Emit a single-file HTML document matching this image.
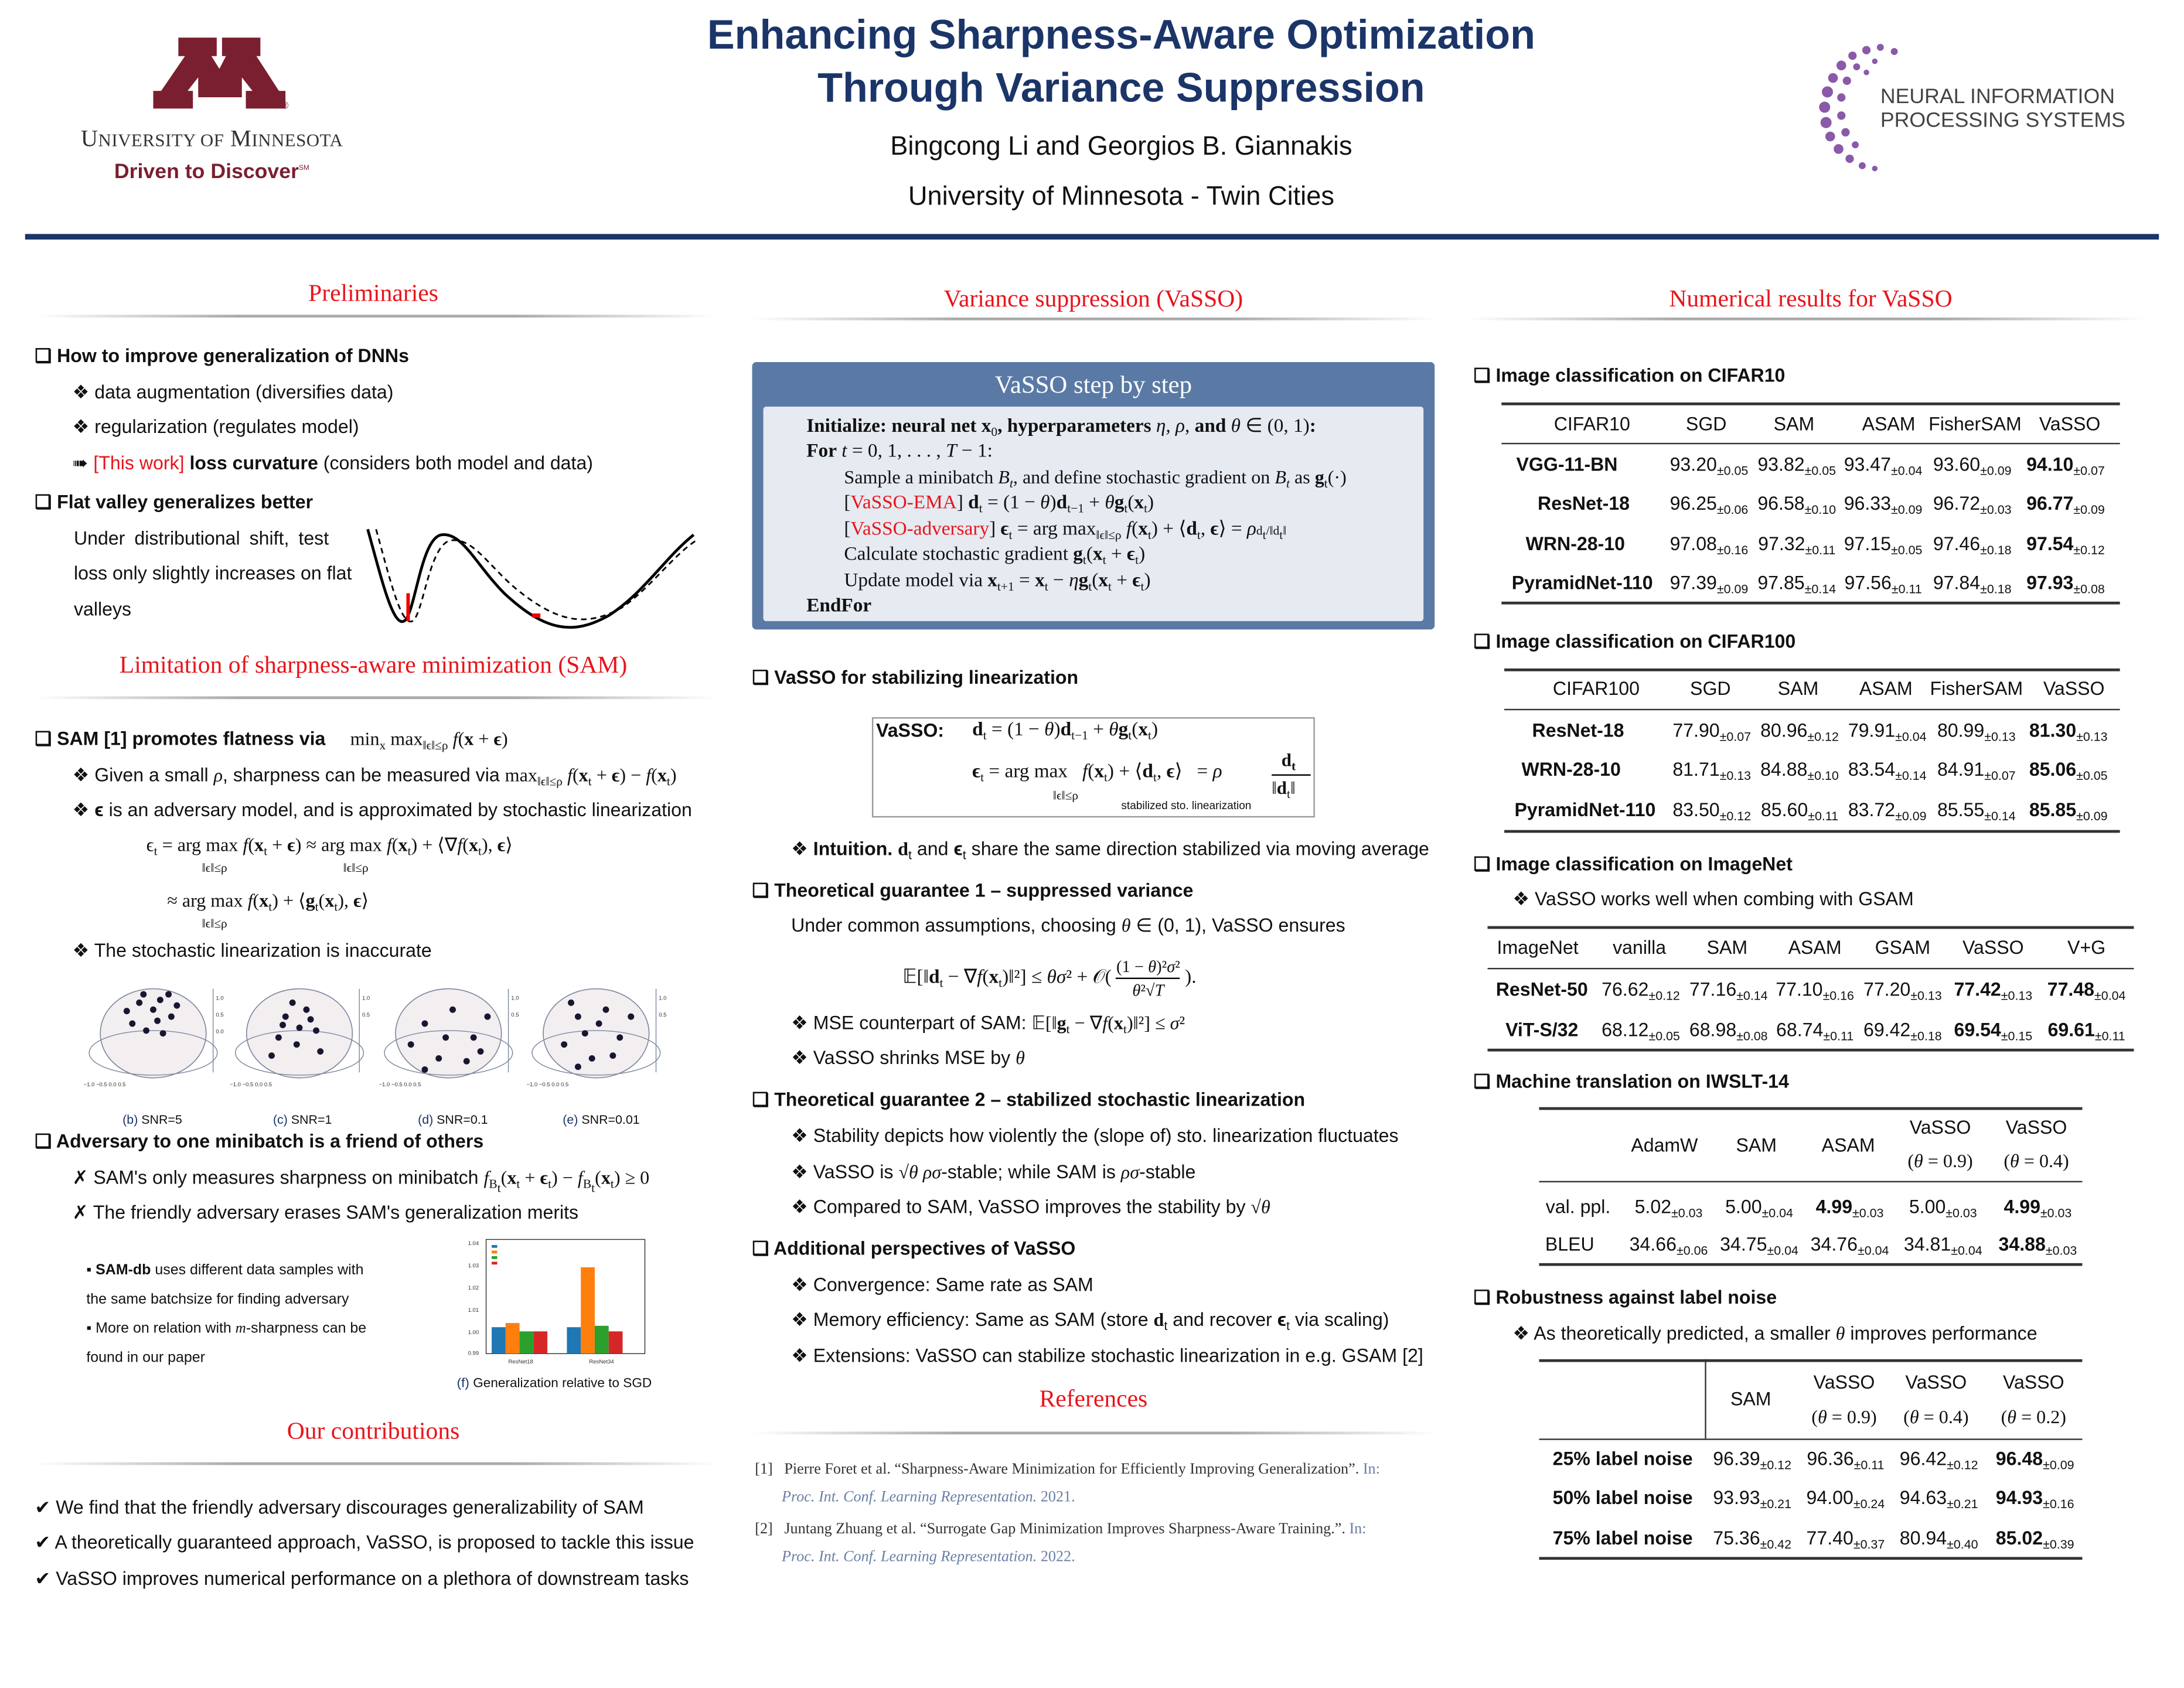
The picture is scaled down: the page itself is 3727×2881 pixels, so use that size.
<!DOCTYPE html>
<html><head><meta charset="utf-8">
<style>
html,body{margin:0;padding:0;background:#fff;}
body{width:3727px;height:2880px;overflow:hidden;position:relative;}
#s{position:absolute;left:0;top:0;width:1568px;height:1212px;transform:scale(2.3769);transform-origin:0 0;font-family:"Liberation Sans",sans-serif;color:#111;}
.t{position:absolute;white-space:nowrap;font-size:13.5px;line-height:18px;}
.b{font-weight:bold;}
.h{position:absolute;white-space:nowrap;font-family:"Liberation Serif",serif;color:#e8141b;font-size:17.5px;line-height:22px;transform:translateX(-50%);}
.ln{position:absolute;height:2px;background:linear-gradient(90deg,rgba(180,180,180,0),#aaa 30%,#aaa 70%,rgba(180,180,180,0));}
.m{font-family:"Liberation Serif",serif;font-style:italic;}
.sr{font-family:"Liberation Serif",serif;}
.c{position:absolute;white-space:nowrap;font-size:13.5px;line-height:18px;text-align:center;transform:translateX(-50%);}
sub{font-size:9px;vertical-align:-3px;}
.rule{position:absolute;height:1.3px;background:#333;}
.red{color:#e8141b;}
</style></head><body><div id="s">

<!-- Header -->
<svg style="position:absolute;left:110px;top:27px" width="95" height="51" viewBox="0 0 100 100" preserveAspectRatio="none">
<path fill="#7a1f30" d="M0 100H30V75H26L34 56V84H67V56L75 75H70V100H100V75H95L78 26H81V0H52V26H55L50 44L44 26H48V0H19V26H24L6 75H0Z"/>
</svg>
<div class="t" style="left:202px;top:68px;font-size:7px;color:#7a1f30">®</div>
<div class="t sr" style="left:58px;top:90px;font-size:17px;line-height:20px;color:#333;letter-spacing:0.2px">U<span style="font-size:13px">NIVERSITY OF</span> M<span style="font-size:13px">INNESOTA</span></div>
<div class="t b" style="left:82px;top:111px;font-size:15px;line-height:20px;color:#7a1f30">Driven to Discover<sup style="font-size:5px;font-weight:normal">SM</sup></div>

<div class="c b" style="left:805px;top:7px;font-size:29.5px;line-height:38px;color:#1b3568">Enhancing Sharpness-Aware Optimization</div>
<div class="c b" style="left:805px;top:45px;font-size:29.5px;line-height:38px;color:#1b3568">Through Variance Suppression</div>
<div class="c" style="left:805px;top:93px;font-size:19px;line-height:25px">Bingcong Li and Georgios B. Giannakis</div>
<div class="c" style="left:805px;top:129px;font-size:19px;line-height:25px">University of Minnesota - Twin Cities</div>

<svg style="position:absolute;left:1300px;top:28px" width="80" height="100" viewBox="0 0 80 100">
<g fill="#8a5aa8">
<circle cx="40" cy="8" r="3"/><circle cx="50" cy="6" r="2.5"/><circle cx="60" cy="9" r="2.5"/><circle cx="30" cy="12" r="3"/><circle cx="22" cy="19" r="3.5"/><circle cx="16" cy="28" r="3.5"/><circle cx="12" cy="38" r="4"/><circle cx="10" cy="49" r="4"/><circle cx="11" cy="60" r="4"/><circle cx="14" cy="70" r="3.5"/><circle cx="20" cy="79" r="3.5"/><circle cx="28" cy="86" r="3"/><circle cx="37" cy="91" r="2.5"/><circle cx="46" cy="93" r="2"/>
<circle cx="33" cy="20" r="2.5"/><circle cx="26" cy="30" r="3"/><circle cx="22" cy="42" r="3"/><circle cx="22" cy="55" r="3"/><circle cx="25" cy="67" r="3"/><circle cx="32" cy="76" r="2.5"/><circle cx="40" cy="24" r="2"/><circle cx="46" cy="16" r="2"/>
</g></svg>
<div class="t" style="left:1350px;top:61px;font-size:15px;line-height:17px;color:#444">NEURAL INFORMATION<br>PROCESSING SYSTEMS</div>

<div style="position:absolute;left:18px;top:168px;width:1532px;height:3.5px;background:#1b3568"></div>

<!-- Column 1 -->
<div class="h" style="left:268px;top:199px">Preliminaries</div>
<div class="ln" style="left:25px;top:226px;width:490px"></div>
<div class="t b" style="left:25px;top:247px">❑ How to improve generalization of DNNs</div>
<div class="t" style="left:52px;top:273px">❖ data augmentation (diversifies data)</div>
<div class="t" style="left:52px;top:298px">❖ regularization (regulates model)</div>
<div class="t" style="left:52px;top:324px">➠ <span class="red">[This work]</span> <b>loss curvature</b> (considers both model and data)</div>
<div class="t b" style="left:25px;top:352px">❑ Flat valley generalizes better</div>
<div class="t" style="left:53px;top:378px;word-spacing:3px">Under distributional shift, test</div>
<div class="t" style="left:53px;top:403px">loss only slightly increases on flat</div>
<div class="t" style="left:53px;top:429px">valleys</div>
<svg style="position:absolute;left:262px;top:376px" width="240" height="78" viewBox="0 0 240 78">
<path d="M2 4 C12 40,20 74,28 70 C36 66,40 10,55 8 C70 6,80 30,100 50 C130 78,150 80,175 66 C200 50,215 25,236 8" fill="none" stroke="#000" stroke-width="2"/>
<path d="M8 4 C18 40,26 74,34 70 C42 66,46 14,62 12 C78 10,90 32,110 48 C140 72,160 74,185 60 C205 46,222 22,238 12" fill="none" stroke="#000" stroke-width="1.2" stroke-dasharray="4 3"/>
<line x1="31" y1="50" x2="31" y2="70" stroke="#e00" stroke-width="2.5"/>
<line x1="120" y1="66" x2="126" y2="66" stroke="#e00" stroke-width="3"/>
</svg>

<div class="h" style="left:268px;top:466px">Limitation of sharpness-aware minimization (SAM)</div>
<div class="ln" style="left:25px;top:500px;width:490px"></div>
<div class="t b" style="left:25px;top:522px">❑ SAM [1] promotes flatness via <span class="sr" style="font-weight:normal;margin-left:14px">min<sub>x</sub> max<sub>‖ϵ‖≤ρ</sub> <i>f</i>(<b>x</b> + <b>ϵ</b>)</span></div>
<div class="t" style="left:52px;top:548px">❖ Given a small <span class="m">ρ</span>, sharpness can be measured via <span class="sr">max<sub>‖ϵ‖≤ρ</sub> <i>f</i>(<b>x</b><sub>t</sub> + <b>ϵ</b>) − <i>f</i>(<b>x</b><sub>t</sub>)</span></div>
<div class="t" style="left:52px;top:573px">❖ <b>ϵ</b> is an adversary model, and is approximated by stochastic linearization</div>
<div class="t sr" style="left:105px;top:598px">ϵ<sub>t</sub> = arg max <i>f</i>(<b>x</b><sub>t</sub> + <b>ϵ</b>) ≈ arg max <i>f</i>(<b>x</b><sub>t</sub>) + ⟨∇<i>f</i>(<b>x</b><sub>t</sub>), <b>ϵ</b>⟩</div>
<div class="t sr" style="left:145px;top:614px;font-size:9px">‖ϵ‖≤ρ &nbsp;&nbsp;&nbsp;&nbsp;&nbsp;&nbsp;&nbsp;&nbsp;&nbsp;&nbsp;&nbsp;&nbsp;&nbsp;&nbsp;&nbsp;&nbsp;&nbsp;&nbsp;&nbsp;&nbsp;&nbsp;&nbsp;&nbsp;&nbsp;&nbsp;&nbsp;&nbsp;&nbsp;&nbsp;&nbsp;&nbsp;&nbsp;&nbsp;&nbsp;&nbsp; ‖ϵ‖≤ρ</div>
<div class="t sr" style="left:120px;top:638px">≈ arg max <i>f</i>(<b>x</b><sub>t</sub>) + ⟨<b>g</b><sub>t</sub>(<b>x</b><sub>t</sub>), <b>ϵ</b>⟩</div>
<div class="t sr" style="left:145px;top:654px;font-size:9px">‖ϵ‖≤ρ</div>
<div class="t" style="left:52px;top:674px">❖ The stochastic linearization is inaccurate</div>

<svg style="position:absolute;left:55px;top:700px" width="440" height="96" viewBox="0 0 440 96">
<g fill="#f3eef0" stroke="#7f8aa0" stroke-width="0.7">
<ellipse cx="55" cy="42" rx="38" ry="32"/><ellipse cx="160" cy="42" rx="38" ry="32"/><ellipse cx="267" cy="42" rx="38" ry="32"/><ellipse cx="373" cy="42" rx="38" ry="32"/>
</g>
<g fill="none" stroke="#7f8aa0" stroke-width="0.6">
<ellipse cx="55" cy="56" rx="46" ry="16"/><ellipse cx="160" cy="56" rx="46" ry="16"/><ellipse cx="267" cy="56" rx="46" ry="16"/><ellipse cx="373" cy="56" rx="46" ry="16"/>
<path d="M98 10V70M203 10V70M310 10V70M416 10V70"/>
</g>
<g font-size="4" fill="#333" font-family="Liberation Sans"><text x="100" y="18">1.0</text><text x="100" y="30">0.5</text><text x="100" y="42">0.0</text><text x="205" y="18">1.0</text><text x="205" y="30">0.5</text><text x="312" y="18">1.0</text><text x="312" y="30">0.5</text><text x="418" y="18">1.0</text><text x="418" y="30">0.5</text><text x="5" y="80">−1.0 −0.5 0.0 0.5</text><text x="110" y="80">−1.0 −0.5 0.0 0.5</text><text x="217" y="80">−1.0 −0.5 0.0 0.5</text><text x="323" y="80">−1.0 −0.5 0.0 0.5</text></g>
<g fill="#1a1530">
<circle cx="45" cy="20" r="2.3"/><circle cx="55" cy="25" r="2.3"/><circle cx="60" cy="18" r="2.3"/><circle cx="68" cy="30" r="2.3"/><circle cx="40" cy="35" r="2.3"/><circle cx="50" cy="40" r="2.3"/><circle cx="62" cy="42" r="2.3"/><circle cx="72" cy="22" r="2.3"/><circle cx="48" cy="14" r="2.3"/><circle cx="58" cy="33" r="2.3"/><circle cx="36" cy="26" r="2.3"/><circle cx="66" cy="14" r="2.3"/>
<circle cx="150" cy="30" r="2.3"/><circle cx="165" cy="25" r="2.3"/><circle cx="172" cy="40" r="2.3"/><circle cx="145" cy="45" r="2.3"/><circle cx="158" cy="50" r="2.3"/><circle cx="175" cy="55" r="2.3"/><circle cx="140" cy="58" r="2.3"/><circle cx="160" cy="38" r="2.3"/><circle cx="155" cy="20" r="2.3"/><circle cx="168" cy="32" r="2.3"/><circle cx="148" cy="36" r="2.3"/>
<circle cx="250" cy="35" r="2.3"/><circle cx="270" cy="25" r="2.3"/><circle cx="285" cy="45" r="2.3"/><circle cx="260" cy="60" r="2.3"/><circle cx="240" cy="50" r="2.3"/><circle cx="280" cy="62" r="2.3"/><circle cx="295" cy="30" r="2.3"/><circle cx="265" cy="45" r="2.3"/><circle cx="250" cy="68" r="2.3"/><circle cx="290" cy="55" r="2.3"/>
<circle cx="360" cy="30" r="2.3"/><circle cx="380" cy="25" r="2.3"/><circle cx="390" cy="45" r="2.3"/><circle cx="350" cy="50" r="2.3"/><circle cx="370" cy="60" r="2.3"/><circle cx="385" cy="58" r="2.3"/><circle cx="365" cy="42" r="2.3"/><circle cx="355" cy="20" r="2.3"/><circle cx="375" cy="35" r="2.3"/><circle cx="398" cy="30" r="2.3"/><circle cx="360" cy="66" r="2.3"/>
</g></svg>
<div class="t" style="left:88px;top:795px;font-size:9px;color:#1b3568">(b) <span style="color:#111">SNR=5</span></div>
<div class="t" style="left:196px;top:795px;font-size:9px;color:#1b3568">(c) <span style="color:#111">SNR=1</span></div>
<div class="t" style="left:300px;top:795px;font-size:9px;color:#1b3568">(d) <span style="color:#111">SNR=0.1</span></div>
<div class="t" style="left:404px;top:795px;font-size:9px;color:#1b3568">(e) <span style="color:#111">SNR=0.01</span></div>

<div class="t b" style="left:25px;top:811px">❑ Adversary to one minibatch is a friend of others</div>
<div class="t" style="left:52px;top:837px">✗ SAM's only measures sharpness on minibatch <span class="sr"><i>f</i><sub>B<sub>t</sub></sub>(<b>x</b><sub>t</sub> + <b>ϵ</b><sub>t</sub>) − <i>f</i><sub>B<sub>t</sub></sub>(<b>x</b><sub>t</sub>) ≥ 0</span></div>
<div class="t" style="left:52px;top:862px">✗ The friendly adversary erases SAM's generalization merits</div>
<div class="t" style="left:62px;top:902px;font-size:10.5px;line-height:21px">▪ <b>SAM-db</b> uses different data samples with<br>the same batchsize for finding adversary<br>▪ More on relation with <i class="sr">m</i>-sharpness can be<br>found in our paper</div>
<svg style="position:absolute;left:335px;top:886px" width="132" height="96" viewBox="0 0 132 96">
<rect x="14" y="4" width="114" height="82" fill="none" stroke="#333" stroke-width="0.6"/>
<g font-size="4" fill="#333" font-family="Liberation Sans"><text x="1" y="8">1.04</text><text x="1" y="24">1.03</text><text x="1" y="40">1.02</text><text x="1" y="56">1.01</text><text x="1" y="72">1.00</text><text x="1" y="87">0.99</text><text x="30" y="93">ResNet18</text><text x="88" y="93">ResNet34</text></g>
<rect x="18" y="8" width="4" height="2" fill="#1f77b4"/><rect x="18" y="12" width="4" height="2" fill="#ff7f0e"/><rect x="18" y="16" width="4" height="2" fill="#2ca02c"/><rect x="18" y="20" width="4" height="2" fill="#d62728"/>
<rect x="18" y="67" width="10" height="19" fill="#1f77b4"/><rect x="28" y="64" width="10" height="22" fill="#ff7f0e"/><rect x="38" y="70" width="10" height="16" fill="#2ca02c"/><rect x="48" y="70" width="10" height="16" fill="#d62728"/>
<rect x="72" y="67" width="10" height="19" fill="#1f77b4"/><rect x="82" y="24" width="10" height="62" fill="#ff7f0e"/><rect x="92" y="66" width="10" height="20" fill="#2ca02c"/><rect x="102" y="70" width="10" height="16" fill="#d62728"/>
</svg>
<div class="t" style="left:328px;top:985px;font-size:9.5px"><span style="color:#1b3568">(f)</span> Generalization relative to SGD</div>

<div class="h" style="left:268px;top:1016px">Our contributions</div>
<div class="ln" style="left:25px;top:1050px;width:490px"></div>
<div class="t" style="left:25px;top:1074px">✔ We find that the friendly adversary discourages generalizability of SAM</div>
<div class="t" style="left:25px;top:1099px">✔ A theoretically guaranteed approach, VaSSO, is proposed to tackle this issue</div>
<div class="t" style="left:25px;top:1125px">✔ VaSSO improves numerical performance on a plethora of downstream tasks</div>

<!-- Column 2 -->
<div class="h" style="left:785px;top:203px">Variance suppression (VaSSO)</div>
<div class="ln" style="left:540px;top:228px;width:490px"></div>
<div style="position:absolute;left:540px;top:260px;width:490px;height:192px;background:#5a7aa5;border-radius:3px"></div>
<div class="c sr" style="left:785px;top:265px;font-size:18px;line-height:22px;color:#fff">VaSSO step by step</div>
<div style="position:absolute;left:548px;top:292px;width:474px;height:154px;background:#e6eaf1;border-radius:2px"></div>
<div class="t sr" style="left:579px;top:298px;font-size:14px"><b>Initialize:</b> <b>neural net x</b><sub>0</sub><b>, hyperparameters</b> <i>η, ρ</i>, <b>and</b> <i>θ</i> ∈ (0, 1)<b>:</b></div>
<div class="t sr" style="left:579px;top:316px;font-size:14px"><b>For</b> <i>t</i> = 0, 1, . . . , <i>T</i> − 1:</div>
<div class="t sr" style="left:606px;top:334px;font-size:13.5px">Sample a minibatch <i>B<sub>t</sub></i>, and define stochastic gradient on <i>B<sub>t</sub></i> as <b>g</b><sub>t</sub>(·)</div>
<div class="t sr" style="left:606px;top:353px;font-size:14px">[<span class="red">VaSSO-EMA</span>] <b>d</b><sub>t</sub> = (1 − <i>θ</i>)<b>d</b><sub>t−1</sub> + <i>θ</i><b>g</b><sub>t</sub>(<b>x</b><sub>t</sub>)</div>
<div class="t sr" style="left:606px;top:372px;font-size:14px">[<span class="red">VaSSO-adversary</span>] <b>ϵ</b><sub>t</sub> = arg max<sub>‖ϵ‖≤ρ</sub> <i>f</i>(<b>x</b><sub>t</sub>) + ⟨<b>d</b><sub>t</sub>, <b>ϵ</b>⟩ = <i>ρ</i><span style="font-size:9px">d<sub>t</sub>/‖d<sub>t</sub>‖</span></div>
<div class="t sr" style="left:606px;top:390px;font-size:14px">Calculate stochastic gradient <b>g</b><sub>t</sub>(<b>x</b><sub>t</sub> + <b>ϵ</b><sub>t</sub>)</div>
<div class="t sr" style="left:606px;top:409px;font-size:14px">Update model via <b>x</b><sub>t+1</sub> = <b>x</b><sub>t</sub> − <i>η</i><b>g</b><sub>t</sub>(<b>x</b><sub>t</sub> + <b>ϵ</b><sub>t</sub>)</div>
<div class="t sr b" style="left:579px;top:427px;font-size:14px">EndFor</div>

<div class="t b" style="left:540px;top:478px">❑ VaSSO for stabilizing linearization</div>
<div style="position:absolute;left:626px;top:515px;width:316px;height:70px;border:1px solid #999"></div>
<div class="t b" style="left:629px;top:516px">VaSSO:</div>
<div class="t sr" style="left:698px;top:516px;font-size:14px"><b>d</b><sub>t</sub> = (1 − <i>θ</i>)<b>d</b><sub>t−1</sub> + <i>θ</i><b>g</b><sub>t</sub>(<b>x</b><sub>t</sub>)</div>
<div class="t sr" style="left:698px;top:546px;font-size:14px"><b>ϵ</b><sub>t</sub> = arg max &nbsp;&nbsp;<i>f</i>(<b>x</b><sub>t</sub>) + ⟨<b>d</b><sub>t</sub>, <b>ϵ</b>⟩ &nbsp;&nbsp;= <i>ρ</i></div>
<div class="t sr" style="left:756px;top:562px;font-size:9px">‖ϵ‖≤ρ</div>
<div class="t" style="left:805px;top:574px;font-size:8px;line-height:10px">stabilized sto. linearization</div>
<div class="t sr b" style="left:920px;top:537px;font-size:13px">d<sub>t</sub></div>
<div style="position:absolute;left:913px;top:556px;width:28px;height:1px;background:#000"></div>
<div class="t sr" style="left:913px;top:557px;font-size:13px">‖<b>d</b><sub>t</sub>‖</div>
<div class="t" style="left:568px;top:601px">❖ <b>Intuition.</b> <b class="sr">d</b><sub>t</sub> and <b>ϵ</b><sub>t</sub> share the same direction stabilized via moving average</div>
<div class="t b" style="left:540px;top:631px">❑ Theoretical guarantee 1 – suppressed variance</div>
<div class="t" style="left:568px;top:656px">Under common assumptions, choosing <span class="m">θ</span> ∈ (0, 1), VaSSO ensures</div>
<div class="t sr" style="left:648px;top:686px;font-size:14px">𝔼[‖<b>d</b><sub>t</sub> − ∇<i>f</i>(<b>x</b><sub>t</sub>)‖²] ≤ <i>θσ</i>² + 𝒪( <span style="display:inline-block;vertical-align:middle;text-align:center;font-size:12px;line-height:16px"><span style="border-bottom:1px solid #000;display:block">(1 − <i>θ</i>)²<i>σ</i>²</span><i>θ</i>²√<i>T</i></span> ).</div>
<div class="t" style="left:568px;top:726px">❖ MSE counterpart of SAM: <span class="sr">𝔼[‖<b>g</b><sub>t</sub> − ∇<i>f</i>(<b>x</b><sub>t</sub>)‖²] ≤ <i>σ</i>²</span></div>
<div class="t" style="left:568px;top:751px">❖ VaSSO shrinks MSE by <span class="m">θ</span></div>
<div class="t b" style="left:540px;top:781px">❑ Theoretical guarantee 2 – stabilized stochastic linearization</div>
<div class="t" style="left:568px;top:807px">❖ Stability depicts how violently the (slope of) sto. linearization fluctuates</div>
<div class="t" style="left:568px;top:833px">❖ VaSSO is <span class="sr">√<i>θ</i> <i>ρσ</i></span>-stable; while SAM is <span class="m">ρσ</span>-stable</div>
<div class="t" style="left:568px;top:858px">❖ Compared to SAM, VaSSO improves the stability by <span class="sr">√<i>θ</i></span></div>
<div class="t b" style="left:540px;top:888px">❑ Additional perspectives of VaSSO</div>
<div class="t" style="left:568px;top:914px">❖ Convergence: Same rate as SAM</div>
<div class="t" style="left:568px;top:939px">❖ Memory efficiency: Same as SAM (store <b class="sr">d</b><sub>t</sub> and recover <b>ϵ</b><sub>t</sub> via scaling)</div>
<div class="t" style="left:568px;top:965px">❖ Extensions: VaSSO can stabilize stochastic linearization in e.g. GSAM [2]</div>
<div class="h" style="left:785px;top:993px">References</div>
<div class="ln" style="left:540px;top:1028px;width:490px"></div>
<div class="t sr" style="left:542px;top:1045px;font-size:11px;line-height:20px;color:#333">[1]&nbsp;&nbsp; Pierre Foret et al. “Sharpness-Aware Minimization for Efficiently Improving Generalization”. <span style="color:#6a7fa5">In:</span><br>&nbsp;&nbsp;&nbsp;&nbsp;&nbsp;&nbsp; <i style="color:#6a7fa5">Proc. Int. Conf. Learning Representation.</i> <span style="color:#6a7fa5">2021.</span></div>
<div class="t sr" style="left:542px;top:1088px;font-size:11px;line-height:20px;color:#333">[2]&nbsp;&nbsp; Juntang Zhuang et al. “Surrogate Gap Minimization Improves Sharpness-Aware Training.”. <span style="color:#6a7fa5">In:</span><br>&nbsp;&nbsp;&nbsp;&nbsp;&nbsp;&nbsp; <i style="color:#6a7fa5">Proc. Int. Conf. Learning Representation.</i> <span style="color:#6a7fa5">2022.</span></div>

<!-- Column 3 -->
<div class="h" style="left:1300px;top:203px">Numerical results for VaSSO</div>
<div class="ln" style="left:1055px;top:228px;width:485px"></div>

<div class="t b" style="left:1058px;top:261px">❑ Image classification on CIFAR10</div>
<div class="rule" style="left:1078px;top:289px;width:444px;height:1.6px"></div>
<div class="c" style="left:1143px;top:296px">CIFAR10</div><div class="c" style="left:1225px;top:296px">SGD</div><div class="c" style="left:1288px;top:296px">SAM</div><div class="c" style="left:1356px;top:296px">ASAM</div><div class="c" style="left:1418px;top:296px">FisherSAM</div><div class="c" style="left:1486px;top:296px">VaSSO</div>
<div class="rule" style="left:1078px;top:318px;width:444px"></div>
<div class="c b" style="left:1125px;top:325px">VGG-11-BN</div><div class="c" style="left:1227px;top:325px">93.20<sub>±0.05</sub></div><div class="c" style="left:1290px;top:325px">93.82<sub>±0.05</sub></div><div class="c" style="left:1352px;top:325px">93.47<sub>±0.04</sub></div><div class="c" style="left:1416px;top:325px">93.60<sub>±0.09</sub></div><div class="c" style="left:1483px;top:325px"><b>94.10</b><sub>±0.07</sub></div>
<div class="c b" style="left:1137px;top:353px">ResNet-18</div><div class="c" style="left:1227px;top:353px">96.25<sub>±0.06</sub></div><div class="c" style="left:1290px;top:353px">96.58<sub>±0.10</sub></div><div class="c" style="left:1352px;top:353px">96.33<sub>±0.09</sub></div><div class="c" style="left:1416px;top:353px">96.72<sub>±0.03</sub></div><div class="c" style="left:1483px;top:353px"><b>96.77</b><sub>±0.09</sub></div>
<div class="c b" style="left:1131px;top:382px">WRN-28-10</div><div class="c" style="left:1227px;top:382px">97.08<sub>±0.16</sub></div><div class="c" style="left:1290px;top:382px">97.32<sub>±0.11</sub></div><div class="c" style="left:1352px;top:382px">97.15<sub>±0.05</sub></div><div class="c" style="left:1416px;top:382px">97.46<sub>±0.18</sub></div><div class="c" style="left:1483px;top:382px"><b>97.54</b><sub>±0.12</sub></div>
<div class="c b" style="left:1136px;top:410px">PyramidNet-110</div><div class="c" style="left:1227px;top:410px">97.39<sub>±0.09</sub></div><div class="c" style="left:1290px;top:410px">97.85<sub>±0.14</sub></div><div class="c" style="left:1352px;top:410px">97.56<sub>±0.11</sub></div><div class="c" style="left:1416px;top:410px">97.84<sub>±0.18</sub></div><div class="c" style="left:1483px;top:410px"><b>97.93</b><sub>±0.08</sub></div>
<div class="rule" style="left:1078px;top:432px;width:444px;height:1.6px"></div>

<div class="t b" style="left:1058px;top:452px">❑ Image classification on CIFAR100</div>
<div class="rule" style="left:1080px;top:480px;width:442px;height:1.6px"></div>
<div class="c" style="left:1146px;top:486px">CIFAR100</div><div class="c" style="left:1228px;top:486px">SGD</div><div class="c" style="left:1291px;top:486px">SAM</div><div class="c" style="left:1354px;top:486px">ASAM</div><div class="c" style="left:1419px;top:486px">FisherSAM</div><div class="c" style="left:1489px;top:486px">VaSSO</div>
<div class="rule" style="left:1080px;top:509px;width:442px"></div>
<div class="c b" style="left:1133px;top:516px">ResNet-18</div><div class="c" style="left:1229px;top:516px">77.90<sub>±0.07</sub></div><div class="c" style="left:1292px;top:516px">80.96<sub>±0.12</sub></div><div class="c" style="left:1355px;top:516px">79.91<sub>±0.04</sub></div><div class="c" style="left:1419px;top:516px">80.99<sub>±0.13</sub></div><div class="c" style="left:1485px;top:516px"><b>81.30</b><sub>±0.13</sub></div>
<div class="c b" style="left:1128px;top:544px">WRN-28-10</div><div class="c" style="left:1229px;top:544px">81.71<sub>±0.13</sub></div><div class="c" style="left:1292px;top:544px">84.88<sub>±0.10</sub></div><div class="c" style="left:1355px;top:544px">83.54<sub>±0.14</sub></div><div class="c" style="left:1419px;top:544px">84.91<sub>±0.07</sub></div><div class="c" style="left:1485px;top:544px"><b>85.06</b><sub>±0.05</sub></div>
<div class="c b" style="left:1138px;top:573px">PyramidNet-110</div><div class="c" style="left:1229px;top:573px">83.50<sub>±0.12</sub></div><div class="c" style="left:1292px;top:573px">85.60<sub>±0.11</sub></div><div class="c" style="left:1355px;top:573px">83.72<sub>±0.09</sub></div><div class="c" style="left:1419px;top:573px">85.55<sub>±0.14</sub></div><div class="c" style="left:1485px;top:573px"><b>85.85</b><sub>±0.09</sub></div>
<div class="rule" style="left:1080px;top:596px;width:442px;height:1.6px"></div>

<div class="t b" style="left:1058px;top:612px">❑ Image classification on ImageNet</div>
<div class="t" style="left:1086px;top:637px">❖ VaSSO works well when combing with GSAM</div>
<div class="rule" style="left:1068px;top:665px;width:464px;height:1.6px"></div>
<div class="c" style="left:1104px;top:672px">ImageNet</div><div class="c" style="left:1177px;top:672px">vanilla</div><div class="c" style="left:1240px;top:672px">SAM</div><div class="c" style="left:1303px;top:672px">ASAM</div><div class="c" style="left:1366px;top:672px">GSAM</div><div class="c" style="left:1431px;top:672px">VaSSO</div><div class="c" style="left:1498px;top:672px">V+G</div>
<div class="rule" style="left:1068px;top:695px;width:464px"></div>
<div class="c b" style="left:1107px;top:702px">ResNet-50</div><div class="c" style="left:1178px;top:702px">76.62<sub>±0.12</sub></div><div class="c" style="left:1241px;top:702px">77.16<sub>±0.14</sub></div><div class="c" style="left:1303px;top:702px">77.10<sub>±0.16</sub></div><div class="c" style="left:1366px;top:702px">77.20<sub>±0.13</sub></div><div class="c" style="left:1431px;top:702px"><b>77.42</b><sub>±0.13</sub></div><div class="c" style="left:1498px;top:702px"><b>77.48</b><sub>±0.04</sub></div>
<div class="c b" style="left:1107px;top:731px">ViT-S/32</div><div class="c" style="left:1178px;top:731px">68.12<sub>±0.05</sub></div><div class="c" style="left:1241px;top:731px">68.98<sub>±0.08</sub></div><div class="c" style="left:1303px;top:731px">68.74<sub>±0.11</sub></div><div class="c" style="left:1366px;top:731px">69.42<sub>±0.18</sub></div><div class="c" style="left:1431px;top:731px"><b>69.54</b><sub>±0.15</sub></div><div class="c" style="left:1498px;top:731px"><b>69.61</b><sub>±0.11</sub></div>
<div class="rule" style="left:1068px;top:753px;width:464px;height:1.6px"></div>

<div class="t b" style="left:1058px;top:768px">❑ Machine translation on IWSLT-14</div>
<div class="rule" style="left:1105px;top:795px;width:390px;height:1.6px"></div>
<div class="c" style="left:1195px;top:814px">AdamW</div><div class="c" style="left:1261px;top:814px">SAM</div><div class="c" style="left:1327px;top:814px">ASAM</div>
<div class="c" style="left:1393px;top:801px">VaSSO</div><div class="c sr" style="left:1393px;top:825px">(<i>θ</i> = 0.9)</div>
<div class="c" style="left:1462px;top:801px">VaSSO</div><div class="c sr" style="left:1462px;top:825px">(<i>θ</i> = 0.4)</div>
<div class="rule" style="left:1105px;top:848px;width:390px"></div>
<div class="c" style="left:1133px;top:858px">val. ppl.</div><div class="c" style="left:1198px;top:858px">5.02<sub>±0.03</sub></div><div class="c" style="left:1263px;top:858px">5.00<sub>±0.04</sub></div><div class="c" style="left:1328px;top:858px"><b>4.99</b><sub>±0.03</sub></div><div class="c" style="left:1395px;top:858px">5.00<sub>±0.03</sub></div><div class="c" style="left:1463px;top:858px"><b>4.99</b><sub>±0.03</sub></div>
<div class="c" style="left:1127px;top:885px">BLEU</div><div class="c" style="left:1198px;top:885px">34.66<sub>±0.06</sub></div><div class="c" style="left:1263px;top:885px">34.75<sub>±0.04</sub></div><div class="c" style="left:1328px;top:885px">34.76<sub>±0.04</sub></div><div class="c" style="left:1395px;top:885px">34.81<sub>±0.04</sub></div><div class="c" style="left:1463px;top:885px"><b>34.88</b><sub>±0.03</sub></div>
<div class="rule" style="left:1105px;top:907px;width:390px;height:1.6px"></div>

<div class="t b" style="left:1058px;top:923px">❑ Robustness against label noise</div>
<div class="t" style="left:1086px;top:949px">❖ As theoretically predicted, a smaller <span class="m">θ</span> improves performance</div>
<div class="rule" style="left:1105px;top:976px;width:390px;height:1.6px"></div>
<div class="c" style="left:1257px;top:996px">SAM</div>
<div class="c" style="left:1324px;top:984px">VaSSO</div><div class="c sr" style="left:1324px;top:1009px">(<i>θ</i> = 0.9)</div>
<div class="c" style="left:1390px;top:984px">VaSSO</div><div class="c sr" style="left:1390px;top:1009px">(<i>θ</i> = 0.4)</div>
<div class="c" style="left:1460px;top:984px">VaSSO</div><div class="c sr" style="left:1460px;top:1009px">(<i>θ</i> = 0.2)</div>
<div style="position:absolute;left:1224px;top:976px;width:1px;height:57px;background:#333"></div>
<div class="rule" style="left:1105px;top:1033px;width:390px"></div>
<div class="c b" style="left:1165px;top:1039px">25% label noise</div><div class="c" style="left:1258px;top:1039px">96.39<sub>±0.12</sub></div><div class="c" style="left:1325px;top:1039px">96.36<sub>±0.11</sub></div><div class="c" style="left:1392px;top:1039px">96.42<sub>±0.12</sub></div><div class="c" style="left:1461px;top:1039px"><b>96.48</b><sub>±0.09</sub></div>
<div class="c b" style="left:1165px;top:1067px">50% label noise</div><div class="c" style="left:1258px;top:1067px">93.93<sub>±0.21</sub></div><div class="c" style="left:1325px;top:1067px">94.00<sub>±0.24</sub></div><div class="c" style="left:1392px;top:1067px">94.63<sub>±0.21</sub></div><div class="c" style="left:1461px;top:1067px"><b>94.93</b><sub>±0.16</sub></div>
<div class="c b" style="left:1165px;top:1096px">75% label noise</div><div class="c" style="left:1258px;top:1096px">75.36<sub>±0.42</sub></div><div class="c" style="left:1325px;top:1096px">77.40<sub>±0.37</sub></div><div class="c" style="left:1392px;top:1096px">80.94<sub>±0.40</sub></div><div class="c" style="left:1461px;top:1096px"><b>85.02</b><sub>±0.39</sub></div>
<div class="rule" style="left:1105px;top:1118px;width:390px;height:1.6px"></div>

</div></body></html>
